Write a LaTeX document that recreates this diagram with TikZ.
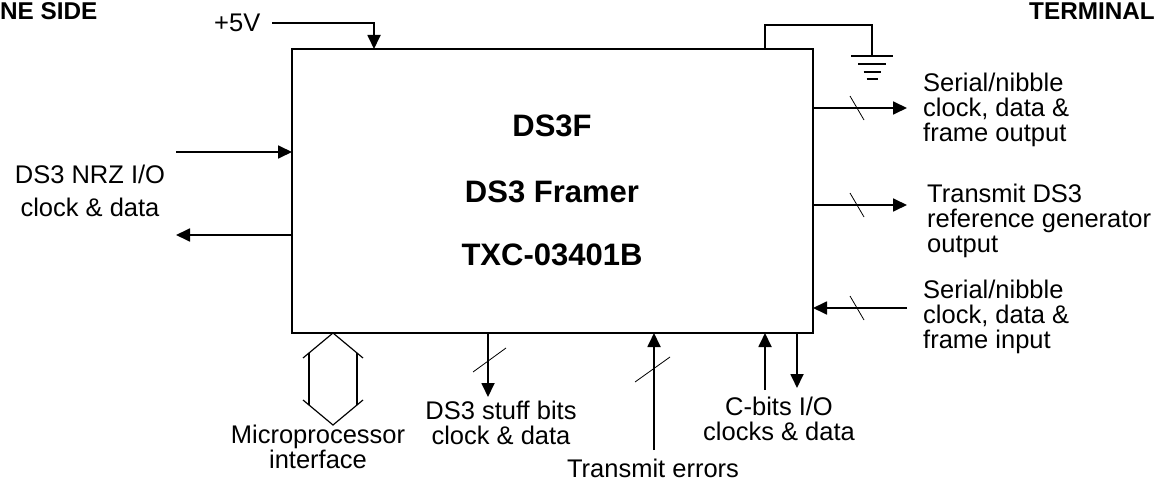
\documentclass[tikz,border=0pt]{standalone}
\usepackage{fontspec}
\setmainfont{Liberation Sans}
\usetikzlibrary{arrows.meta}
\definecolor{ink}{RGB}{0,0,0}

\begin{document}
\begin{tikzpicture}[x=1pt, y=-1pt,
    wire/.style={draw=ink, line width=1.8pt},
    sig/.style={wire, -{Triangle[length=14pt,width=13pt]}},
    bus/.style={draw=ink, line width=0.8pt},
    lbl/.style={inner sep=0pt, font=\fontsize{25.5}{25}\selectfont},
    ttl/.style={inner sep=0pt, font=\fontsize{31}{31}\selectfont\bfseries},
    side/.style={inner sep=0pt, font=\fontsize{24.3}{24}\selectfont\bfseries}]
  \useasboundingbox (0,0) rectangle (1161,481);

  % the framer block
  \node[draw=ink, line width=1.8pt, minimum width=521pt, minimum height=284pt,
        inner sep=0pt, outer sep=0pt] (framer) at (552.5,191) {};
  \node[ttl, anchor=base] (chip) at (552,137) {DS3F};
  \node[ttl, anchor=base] (title) at (552,202) {DS3 Framer};
  \node[ttl, anchor=base] (part) at (552,265) {TXC-03401B};

  \node[side, anchor=base west] (lineside) at (0,20) {NE SIDE};
  \node[side, anchor=base west] (termside) at (1029,20) {TERMINAL};

  % supply and ground
  \node[lbl, anchor=base west] (vcc) at (214,32) {+5V};
  \coordinate (vccin) at (374,0);
  \draw[sig] ([xshift=12pt]vcc.east) -| (vccin |- framer.north);
  \coordinate (gnd) at (872,56);
  \draw[wire] (framer.north -| 765,0) -- (765,25) -| (gnd);
  \draw[wire] ([xshift=-21pt]gnd) -- ([xshift=21pt]gnd);
  \foreach \w/\d in {14/8, 8.5/16, 5.5/23}
    \draw[draw=ink, line width=1.2pt] ([shift={(-\w,\d)}]gnd) -- ([shift={(\w,\d)}]gnd);

  % line side (base anchor sits on the last line)
  \node[lbl, align=center, anchor=base] (nrz) at (90,216) {DS3 NRZ I/O\\[8pt]clock \& data};
  \coordinate (nrzin) at (176,152);
  \coordinate (nrzout) at (176,235);
  \draw[sig] (nrzin) -- (nrzin -| framer.west);
  \draw[sig] (nrzout -| framer.west) -- (nrzout);

  % terminal side
  \node[lbl, anchor=base west, align=left] (sout) at (923,142) {Serial/nibble\\clock, data \&\\frame output};
  \node[lbl, anchor=base west, align=left] (ref) at (927,252) {Transmit DS3\\reference generator\\output};
  \node[lbl, anchor=base west, align=left] (sin) at (923,348) {Serial/nibble\\clock, data \&\\frame input};
  \coordinate (soutend) at (907,108);
  \coordinate (refend) at (907,205);
  \coordinate (sinend) at (907,308);
  \draw[sig] (soutend -| framer.east) -- (soutend);
  \draw[sig] (refend -| framer.east) -- (refend);
  \draw[sig] (sinend) -- (sinend -| framer.east);
  \foreach \y in {108,205,308}
    \draw[bus] (857,\y) +(-7,-12) -- +(7,12);

  % bottom
  \draw[draw=ink, line width=1.2pt] (303,358) -- (333,333) -- (363,358)
    (303,400) -- (333,425) -- (363,400);
  \draw[wire] (309,353) -- (309,405) (357,353) -- (357,405);
  \node[lbl, align=center, anchor=base] (cpu) at (318,468) {Microprocessor\\interface};

  \node[lbl, align=center, anchor=base] (stuff) at (501,444) {DS3 stuff bits\\clock \& data};
  \coordinate (stuffend) at (488,397);
  \draw[sig] (stuffend |- framer.south) -- (stuffend);
  \draw[bus] (489,360) +(-16,12) -- +(17,-12);

  \node[lbl, anchor=base] (txerr) at (653,477) {Transmit errors};
  \coordinate (txerrin) at (654,450);
  \draw[sig] (txerrin) -- (txerrin |- framer.south);
  \draw[bus] (653,369) +(-18,13) -- +(17,-12);

  \node[lbl, align=center, anchor=base] (cbit) at (779,440) {C-bits I/O\\clocks \& data};
  \coordinate (cbitin) at (765,390);
  \coordinate (cbitout) at (797,388);
  \draw[sig] (cbitin) -- (cbitin |- framer.south);
  \draw[sig] (cbitout |- framer.south) -- (cbitout);
\end{tikzpicture}
\end{document}
